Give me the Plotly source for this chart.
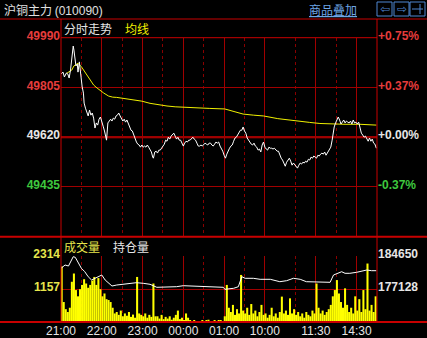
import plotly.graph_objects as go

# ---------------- data ----------------
PREV_CLOSE = 49620
TIME_LABELS = ["21:00", "22:00", "23:00", "00:00", "01:00", "10:00", "11:30", "14:30"]
TIME_LABEL_MIN = [0, 60, 120, 180, 240, 300, 375, 435]
HALF_GRID_MIN = [30, 90, 150, 210, 270, 345, 405]
SESSION_MINUTES = 465

PRICE_TICKS = [49990, 49805, 49620, 49435]
PCT_LABELS = ["+0.75%", "+0.37%", "+0.00%", "-0.37%"]

PRICE_MIN = [0, 3, 5, 8, 10, 12, 14, 17, 18, 19, 21, 22, 24, 25, 27, 29, 31, 33, 34, 36,
             38, 40, 42, 44, 46, 48, 50, 52, 54, 56, 58, 60, 62, 64, 66, 67,
             69, 71, 73, 75, 77, 79, 81, 83, 85, 87, 89, 91, 93, 95, 97, 99, 101, 103, 105,
             107, 109, 111, 113, 115, 117, 119, 121, 123, 125, 127, 129, 131, 133, 135, 136,
             138, 140, 142, 144, 146, 148, 150, 152, 154, 156, 158, 160, 162, 164, 166, 168,
             170, 172, 174, 176, 178, 180, 182, 184, 186, 188, 190, 192, 194, 196, 198, 200,
             202, 204, 206, 208, 210, 212, 214, 216, 218, 220, 222, 224, 226, 228, 230, 232,
             234, 236, 238, 240, 242, 244, 246, 248, 250, 252, 254, 256, 258, 260, 262, 264,
             266, 268, 270, 272, 274, 276, 278, 280, 282, 284, 286, 288, 290, 292, 294, 296,
             298, 300, 302, 304, 306, 308, 310, 312, 314, 316, 318, 320, 322, 324, 326, 328,
             330, 332, 334, 336, 338, 340, 342, 344, 346, 348, 350, 352, 354, 356, 358, 360,
             362, 364, 366, 368, 370, 372, 374, 376, 378, 380, 382, 384, 386, 388, 390, 392,
             394, 396, 397, 399, 401, 402, 404, 406, 408, 410, 412, 414, 416, 418, 420, 422,
             424, 426, 428, 430, 432, 434, 436, 438, 440, 442, 444, 446, 448, 450, 452, 454,
             456, 458, 460, 462, 464]
PRICE = [49855, 49862, 49844, 49859, 49855, 49840, 49870, 49937, 49959, 49944, 49907, 49885,
         49892, 49862, 49900, 49840, 49810, 49784, 49747, 49728, 49710, 49699, 49721, 49702,
         49710, 49691, 49654, 49673, 49665, 49687, 49695, 49673, 49661, 49643, 49613, 49609,
         49673, 49680, 49687, 49680, 49691, 49687, 49699, 49702, 49710, 49699, 49691, 49680,
         49687, 49676, 49684, 49669, 49658, 49646, 49643, 49628, 49620, 49602, 49594, 49591,
         49583, 49591, 49583, 49587, 49583, 49591, 49583, 49572, 49565, 49546, 49542,
         49565, 49568, 49561, 49572, 49572, 49579, 49587, 49594, 49609, 49605, 49620, 49613,
         49624, 49632, 49635, 49624, 49613, 49620, 49609, 49609, 49598, 49587, 49598, 49605,
         49602, 49609, 49609, 49617, 49620, 49613, 49609, 49598, 49587, 49587, 49591, 49587,
         49591, 49598, 49594, 49591, 49598, 49598, 49591, 49587, 49594, 49602, 49598, 49602,
         49587, 49579, 49568, 49553, 49542, 49557, 49572, 49579, 49587, 49591, 49605, 49617,
         49620, 49628, 49639, 49646, 49646, 49658, 49643, 49635, 49617, 49609, 49605, 49594,
         49591, 49598, 49587, 49583, 49572, 49576, 49565, 49591, 49602, 49583, 49576, 49572,
         49583, 49579, 49579, 49576, 49579, 49572, 49568, 49568, 49553, 49542, 49535, 49524,
         49512, 49527, 49535, 49542, 49531, 49516, 49524, 49516, 49509, 49505, 49516, 49524,
         49520, 49527, 49524, 49531, 49527, 49538, 49535, 49546, 49542, 49550, 49546, 49542,
         49553, 49550, 49557, 49561, 49557, 49565, 49553, 49561, 49572, 49579,
         49583, 49609, 49646, 49658, 49673, 49684, 49695, 49684, 49669, 49676, 49684, 49673,
         49680, 49676, 49673, 49680, 49669, 49684, 49673, 49676, 49669, 49676, 49658, 49635,
         49628, 49620, 49624, 49613, 49605, 49617, 49605, 49613, 49598, 49594, 49579]

AVG_MIN = [8, 16, 19, 25, 30, 34, 38, 43, 48, 53, 57, 63, 70, 76, 82, 94, 106, 119, 131,
           143, 156, 168, 180, 205, 219, 241, 256, 268, 283, 298, 319, 342, 366, 381, 396,
           418, 440, 464]
AVG = [49857, 49870, 49885, 49895, 49882, 49866, 49851, 49833, 49814, 49803, 49795, 49784,
       49773, 49769, 49768, 49764, 49761, 49754, 49746, 49740, 49736, 49733, 49731, 49728,
       49727, 49725, 49715, 49706, 49702, 49699, 49689, 49681, 49675, 49671, 49669, 49668,
       49668, 49665]

VOL_BUCKET = 3
VOLUME = [1950, 700, 450, 350, 500, 1410, 1700, 1120, 900, 1150,
          1300, 1500, 1350, 1200, 1300, 1450, 1580, 1300, 1540, 1150,
          900, 1000, 800, 770, 700, 500, 300, 350, 250, 400,
          200, 300, 220, 350, 180, 260, 150, 1580, 300, 250,
          200, 300, 150, 250, 180, 1350, 200, 200, 120, 250,
          100, 180, 120, 200, 80, 150, 250, 400, 100, 150,
          60, 300, 150, 40, 0, 60, 0, 30, 0, 50,
          0, 40, 80, 0, 30, 60, 0, 40, 70, 30,
          200, 1300, 500, 350, 600, 250, 450, 300, 1650, 400,
          300, 500, 250, 630, 300, 400, 200, 350, 600, 250,
          300, 150, 250, 500, 200, 300, 150, 350, 890, 300,
          400, 250, 830, 300, 450, 250, 350, 200, 300, 150,
          350, 250, 200, 400, 300, 1350, 500, 300, 400, 250,
          350, 450, 600, 900, 1120, 1470, 1000, 700, 500, 1180,
          600, 350, 500, 300, 900, 400, 800, 350, 1120, 450,
          2050, 400, 600, 350, 900]
VOL_MIN = [i * VOL_BUCKET + 1 for i in range(len(VOLUME))]
VOL_TICKS = [2314, 1157]

OI_MIN = [0, 6, 11, 16, 18, 21, 26, 30, 35, 40, 45, 50, 55, 60, 65, 70, 75, 82, 92, 102,
          111, 121, 131, 141, 151, 170, 180, 195, 209, 224, 239, 241, 254, 261, 266, 271,
          283, 293, 308, 322, 332, 342, 352, 361, 371, 386, 396, 401, 406, 413, 418, 425,
          435, 445, 450, 457, 464]
OI = [181845, 182598, 182370, 184125, 184490, 184350, 182985, 181845, 181070, 179930,
      179180, 179567, 179930, 180318, 179180, 178427, 177812, 178040, 178200, 178427,
      178564, 178427, 178200, 177515, 177515, 177652, 177880, 177812, 177812, 177652,
      177515, 177060, 177288, 177652, 179930, 179567, 179567, 179339, 179339, 178792,
      179020, 179567, 179339, 178792, 178792, 178655, 178655, 180318, 180706, 181070,
      180706, 180706, 180934, 181299, 181458, 181299, 181299]
OI_TICKS = [184650, 177128]
OI_RANGE = [169606, 184650]

# ---------------- geometry helpers ----------------
W, H = 427, 338
def px(x):
    return x / W
def py(y):
    return 1 - y / H

X0, X1 = 61, 377
MAIN_TOP, MAIN_BOT = 37.7, 236.7
VOL_TOP, VOL_BOT = 256, 322

RED = "#e63c3c"
GREEN = "#3ec83e"
WHITE = "#e6e6e6"
YEL = "#e6e64c"
GRID = "#a00000"
FRAME = "#c80000"

tick_colors = [RED, RED, WHITE, GREEN]
left_text = [f'<span style="color:{c}">{v}</span>' for v, c in zip(PRICE_TICKS, tick_colors)]
right_text = [f'<span style="color:{c}">{t}</span>' for t, c in zip(PCT_LABELS, tick_colors)]

fig = go.Figure()

fig.add_trace(go.Scatter(x=AVG_MIN, y=AVG, mode="lines", line=dict(color="#f0f000", width=1),
                         xaxis="x", yaxis="y", hoverinfo="skip"))
fig.add_trace(go.Scatter(x=PRICE_MIN, y=PRICE, mode="lines", line=dict(color="#ffffff", width=1),
                         xaxis="x", yaxis="y", hoverinfo="skip"))
fig.add_trace(go.Scatter(x=[0], y=[PREV_CLOSE], mode="markers", marker=dict(opacity=0),
                         xaxis="x", yaxis="y2", hoverinfo="skip"))
fig.add_trace(go.Bar(x=VOL_MIN, y=VOLUME, width=VOL_BUCKET, marker=dict(color="#ffff00", line=dict(width=0)),
                     xaxis="x2", yaxis="y3", hoverinfo="skip"))
fig.add_trace(go.Scatter(x=OI_MIN, y=OI, mode="lines", line=dict(color="#ffffff", width=1),
                         xaxis="x2", yaxis="y4", hoverinfo="skip"))

xdom = [px(X0), px(X1)]
xcommon = dict(domain=xdom, range=[0, SESSION_MINUTES], tickmode="array", tickvals=TIME_LABEL_MIN,
               showgrid=True, gridcolor=GRID, gridwidth=1, zeroline=False, showline=False,
               ticks="", fixedrange=True, automargin=False,
               minor=dict(tickmode="array", tickvals=HALF_GRID_MIN, showgrid=True, gridcolor="#8a0000",
                          griddash="dot", gridwidth=1, ticks=""))

lab_font = dict(family="Liberation Sans, Arial", size=12, weight=700)

fig.update_layout(
    template="none",
    font=dict(family="Liberation Sans, Arial", size=12, color=WHITE),
    width=W, height=H, margin=dict(l=0, r=0, t=0, b=0, pad=0), autosize=False,
    paper_bgcolor="#000000", plot_bgcolor="#000000", showlegend=False,
    xaxis=dict(**xcommon, anchor="y", showticklabels=False),
    xaxis2=dict(**xcommon, anchor="y3", showticklabels=True, ticktext=TIME_LABELS,
                tickfont=dict(family="Liberation Sans, Arial", size=12, color=WHITE)),
    yaxis=dict(domain=[py(MAIN_BOT), py(MAIN_TOP)], range=[49250, 49990], anchor="x",
               tickmode="array", tickvals=PRICE_TICKS, ticktext=left_text, tickfont=lab_font,
               showgrid=True, gridcolor=GRID, zeroline=False, ticks="", automargin=False,
               ticklabelshift=-2, fixedrange=True),
    yaxis2=dict(domain=[py(MAIN_BOT), py(MAIN_TOP)], range=[49250, 49990], overlaying="y",
                side="right", anchor="x", tickmode="array", tickvals=PRICE_TICKS, ticktext=right_text,
                tickfont=lab_font, showgrid=False, zeroline=False, ticks="", automargin=False,
                ticklabelshift=-2, fixedrange=True),
    yaxis3=dict(domain=[py(VOL_BOT), py(VOL_TOP)], range=[0, 2314], anchor="x2",
                tickmode="array", tickvals=VOL_TICKS, ticktext=[str(v) for v in VOL_TICKS],
                tickfont=dict(lab_font, color=YEL),
                showgrid=True, gridcolor=GRID, zeroline=False, ticks="", automargin=False,
                ticklabelshift=-2, fixedrange=True),
    yaxis4=dict(domain=[py(VOL_BOT), py(VOL_TOP)], range=OI_RANGE, overlaying="y3", side="right",
                anchor="x2", tickmode="array", tickvals=OI_TICKS, ticktext=[str(v) for v in OI_TICKS],
                tickfont=dict(lab_font, color=WHITE),
                showgrid=False, zeroline=False, ticks="", automargin=False,
                ticklabelshift=-2, fixedrange=True),
)

shapes = []
def hline(y, x0, x1, color=FRAME, w=1):
    shapes.append(dict(type="line", xref="paper", yref="paper", x0=px(x0), x1=px(x1),
                       y0=py(y), y1=py(y), line=dict(color=color, width=w)))
def vline(x, y0, y1, color=FRAME, w=1):
    shapes.append(dict(type="line", xref="paper", yref="paper", x0=px(x), x1=px(x),
                       y0=py(y0), y1=py(y1), line=dict(color=color, width=w)))

hline(19, 0, W)
hline(MAIN_TOP, X0, X1)
hline(MAIN_BOT, 0, W, w=2)
hline(VOL_BOT, 0, W, w=2)
vline(X0, 19, VOL_BOT)
vline(X1, 19, VOL_BOT)
# zero (previous close) line
shapes.append(dict(type="line", xref="paper", yref="y", x0=px(X0), x1=px(X1), y0=PREV_CLOSE,
                   y1=PREV_CLOSE, line=dict(color="#d00000", width=2), layer="below"))

# toolbar icons
ICON = "#4f86d0"
for bx in [(377, 392), (394, 409), (410, 425)]:
    shapes.append(dict(type="rect", xref="paper", yref="paper", x0=px(bx[0]), x1=px(bx[1]),
                       y0=py(16), y1=py(2), line=dict(color=ICON, width=1)))
hline(9, 412, 423, color=ICON)
vline(420, 4, 14, color=ICON)

fig.update_layout(shapes=shapes)

ann = []
def text(x, y, s, color, size=12, anchor="left", family="Noto Sans CJK SC"):
    ann.append(dict(x=px(x), y=py(y), xref="paper", yref="paper", text=s, showarrow=False,
                    xanchor=anchor, yanchor="middle", font=dict(family=family, size=size, color=color)))

text(2, 9, '沪铜主力 <span style="font-family:Liberation Sans">(010090)</span>', "#e0e0e0", 12)
text(307, 9, "<u>商品叠加</u>", "#6ea6e6", 12)
text(384.5, 9, "⇦", ICON, 12, anchor="center", family="DejaVu Sans")
text(401.5, 9, "⇨", ICON, 12, anchor="center", family="DejaVu Sans")
text(62, 28.5, "分时走势", "#e6e6e6", 12)
text(123, 28.5, "均线", "#f0f000", 12)
text(62, 246.5, "成交量", "#e6e64c", 12)
text(111, 246.5, "持仓量", "#e6e6e6", 12)

fig.update_layout(annotations=ann)

fig.write_html("out.html")
